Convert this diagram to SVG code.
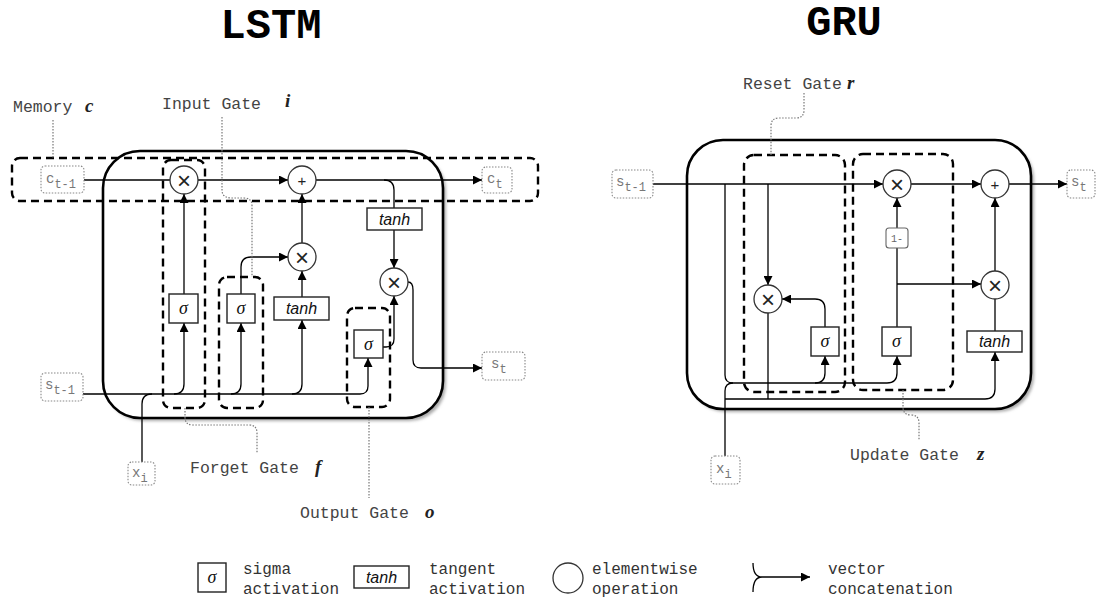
<svg xmlns="http://www.w3.org/2000/svg" width="1096" height="603" viewBox="0 0 1096 603">
<defs>
<marker id="arr" viewBox="0 0 10 10" refX="10" refY="5" markerWidth="10" markerHeight="9" markerUnits="userSpaceOnUse" orient="auto"><path d="M0,0 L10,5 L0,10 z" fill="#000"/></marker>
<filter id="blur" x="-10%" y="-10%" width="120%" height="120%"><feGaussianBlur stdDeviation="1.5"/></filter>
<style>
.title{font-family:"Liberation Mono",monospace;font-weight:bold;font-size:42px;fill:#000;text-anchor:middle}
.lbl{font-family:"Liberation Mono",monospace;font-size:16.5px;fill:#444}
.leg{font-family:"Liberation Mono",monospace;font-size:16px;fill:#333}
.var{font-family:"Liberation Serif",serif;font-style:italic;font-weight:bold;font-size:19px;fill:#222}
.main{fill:#fff;stroke:#000;stroke-width:2.6}
.shadow{fill:#aaa;filter:url(#blur)}
.dash{fill:none;stroke:#000;stroke-width:2.4;stroke-dasharray:8 5}
.lead{fill:none;stroke:#777;stroke-width:1.2;stroke-dasharray:1.5 1.5}
.con{fill:none;stroke:#000;stroke-width:1.3}
.ca{fill:none;stroke:#000;stroke-width:1.3;marker-end:url(#arr)}
.io{fill:#fff;stroke:#888;stroke-width:1.1;stroke-dasharray:1.5 1.5}
.iot{font-family:"Liberation Mono",monospace;font-size:14px;fill:#777}
.ios{font-family:"Liberation Mono",monospace;font-size:12px;fill:#777}
.op{fill:#fff;stroke:#333;stroke-width:1.3}
.opt{font-family:"Liberation Sans",sans-serif;fill:#222;text-anchor:middle;dominant-baseline:central}
.act{fill:#fff;stroke:#222;stroke-width:1.4}
.sig{font-family:"Liberation Serif",serif;font-style:italic;font-size:18px;fill:#111;text-anchor:middle}
.tanh{font-family:"Liberation Sans",sans-serif;font-style:italic;font-size:16px;fill:#111;text-anchor:middle}
</style>
</defs>
<rect width="1096" height="603" fill="#fff"/>

<text class="title" x="271" y="38">LSTM</text>
<text class="title" x="844" y="35">GRU</text>

<!-- LSTM frame -->
<g id="lstm-cell">
<rect class="shadow" x="106" y="154" width="340" height="267" rx="37"/>
<rect class="main" x="103" y="151" width="340" height="267" rx="37"/>
</g>
<g id="lstm-gates">
<rect class="dash" x="12" y="158" width="526" height="43" rx="8"/>
<rect class="dash" x="163" y="160" width="42" height="248" rx="8"/>
<rect class="dash" x="219" y="277" width="44" height="131" rx="8"/>
<rect class="dash" x="347" y="308" width="43" height="99" rx="8"/>
</g>

<!-- GRU frame -->
<g id="gru-cell">
<rect class="shadow" x="690" y="143" width="344" height="269" rx="36"/>
<rect class="main" x="687" y="140" width="344" height="269" rx="36"/>
</g>
<g id="gru-gates">
<rect class="dash" x="744" y="155" width="101" height="237" rx="10"/>
<rect class="dash" x="853" y="154" width="100" height="236" rx="10"/>
</g>

<!-- connectors -->
<g id="connectors">
<!-- LSTM -->
<path class="con" d="M84,180 H170"/>
<path class="ca" d="M198,180 H288"/>
<path class="ca" d="M316,180 H482"/>
<path class="con" d="M384,180 Q394,180 394,190 V208"/>
<path class="ca" d="M394,230 V268"/>
<path class="ca" d="M408,282 Q413,282 413,290 V360 Q413,368 421,368 H482"/>
<path class="ca" d="M383,347 H386 Q394,347 394,339 V296"/>
<path class="ca" d="M83,394 H360 Q368,394 368,386 V358"/>
<path class="ca" d="M174,394 Q184,394 184,384 V323"/>
<path class="ca" d="M184,294 V194"/>
<path class="ca" d="M231,394 Q241,394 241,384 V323"/>
<path class="ca" d="M241,294 V267 Q241,257 251,257 H288"/>
<path class="ca" d="M292,394 Q302,394 302,384 V320"/>
<path class="ca" d="M302,297 V271"/>
<path class="ca" d="M302,243 V194"/>
<path class="con" d="M142,462 V404 Q142,394 152,394"/>
<!-- GRU -->
<path class="ca" d="M653,184 H883"/>
<path class="ca" d="M911,184 H981"/>
<path class="ca" d="M1009,184 H1067"/>
<path class="con" d="M725,184 V375 Q725,383 733,383"/>
<path class="con" d="M725,456 V391 Q725,383 733,383"/>
<path class="ca" d="M733,383 H887 Q897,383 897,373 V356"/>
<path class="ca" d="M815,383 Q825,383 825,373 V356"/>
<path class="ca" d="M725,399 H985 Q995,399 995,389 V352"/>
<path class="ca" d="M768,184 V285"/>
<path class="con" d="M768,313 V399"/>
<path class="ca" d="M825,327 V309 Q825,299 815,299 H782"/>
<path class="con" d="M897,327 V248"/>
<path class="ca" d="M897,228 V198"/>
<path class="ca" d="M897,284 H981"/>
<path class="ca" d="M995,271 V198"/>
<path class="con" d="M995,331 V299"/>
</g>

<!-- LSTM nodes -->
<g id="lstm-ct1"><rect class="io" x="41" y="166" width="43" height="27" rx="4"/><text class="iot" x="46" y="183">c<tspan class="ios" dy="5">t-1</tspan></text></g>
<g id="lstm-ct"><rect class="io" x="482" y="167" width="30" height="26" rx="4"/><text class="iot" x="487" y="183">c<tspan class="ios" dy="5">t</tspan></text></g>
<g id="lstm-st1"><rect class="io" x="41" y="373" width="42" height="28" rx="4"/><text class="iot" x="45" y="389">s<tspan class="ios" dy="5">t-1</tspan></text></g>
<g id="lstm-st"><rect class="io" x="482" y="352" width="43" height="28" rx="4"/><text class="iot" x="491" y="368">s<tspan class="ios" dy="5">t</tspan></text></g>
<g id="lstm-xi"><rect class="io" x="128" y="462" width="27" height="23" rx="4"/><text class="iot" x="132" y="477">x<tspan class="ios" dy="5">i</tspan></text></g>

<g id="lstm-mul-f"><circle class="op" cx="184" cy="180" r="14"/><text class="opt" x="184" y="180" font-size="24">×</text></g>
<g id="lstm-add"><circle class="op" cx="302" cy="180" r="14"/><text class="opt" x="302" y="180" font-size="15">+</text></g>
<g id="lstm-mul-i"><circle class="op" cx="302" cy="257" r="14"/><text class="opt" x="302" y="257" font-size="24">×</text></g>
<g id="lstm-mul-o"><circle class="op" cx="394" cy="282" r="14"/><text class="opt" x="394" y="282" font-size="24">×</text></g>
<g id="lstm-tanh-c"><rect class="act" x="367" y="208" width="55" height="22"/><text class="tanh" x="394.5" y="225">tanh</text></g>
<g id="lstm-tanh-i"><rect class="act" x="274" y="297" width="55" height="23"/><text class="tanh" x="301.5" y="314">tanh</text></g>
<g id="lstm-sig-f"><rect class="act" x="169" y="294" width="29" height="29"/><text class="sig" x="183.5" y="314">σ</text></g>
<g id="lstm-sig-i"><rect class="act" x="227" y="294" width="28" height="29"/><text class="sig" x="241" y="314">σ</text></g>
<g id="lstm-sig-o"><rect class="act" x="354" y="330" width="29" height="28"/><text class="sig" x="368.5" y="350">σ</text></g>

<g id="lstm-labels">
<path class="lead" d="M53,120 V158"/>
<text class="lbl" x="13" y="112">Memory</text><text class="var" x="85" y="112">c</text>
<path class="lead" d="M222,117 V190 Q222,198 232,198 H244 Q252,198 252,206 V277"/>
<text class="lbl" x="162" y="109">Input Gate</text><text class="var" x="285" y="107">i</text>
<path class="lead" d="M185,408 V417 Q185,425 193,425 H249 Q257,425 257,433 V453"/>
<text class="lbl" x="190" y="473">Forget Gate</text><text class="var" x="315" y="473">f</text>
<path class="lead" d="M369,407 V498"/>
<text class="lbl" x="300" y="518">Output Gate</text><text class="var" x="425" y="518">o</text>
</g>

<!-- GRU nodes -->
<g id="gru-st1"><rect class="io" x="612" y="170" width="41" height="28" rx="4"/><text class="iot" x="616" y="186">s<tspan class="ios" dy="5">t-1</tspan></text></g>
<g id="gru-st"><rect class="io" x="1067" y="170" width="28" height="28" rx="4"/><text class="iot" x="1071" y="186">s<tspan class="ios" dy="5">t</tspan></text></g>
<g id="gru-xi"><rect class="io" x="711" y="456" width="29" height="28" rx="4"/><text class="iot" x="716" y="473">x<tspan class="ios" dy="5">i</tspan></text></g>
<g id="gru-mul-r"><circle class="op" cx="768" cy="299" r="14"/><text class="opt" x="768" y="299" font-size="24">×</text></g>
<g id="gru-mul-z1"><circle class="op" cx="897" cy="184" r="14"/><text class="opt" x="897" y="184" font-size="24">×</text></g>
<g id="gru-add"><circle class="op" cx="995" cy="184" r="14"/><text class="opt" x="995" y="184" font-size="15">+</text></g>
<g id="gru-mul-z2"><circle class="op" cx="995" cy="285" r="14"/><text class="opt" x="995" y="285" font-size="24">×</text></g>
<g id="gru-one-minus"><rect fill="#fff" stroke="#666" stroke-width="1.1" x="886" y="228" width="22" height="20" rx="3"/><text font-family="Liberation Mono, monospace" font-size="10" fill="#666" x="897" y="242" text-anchor="middle">1-</text></g>
<g id="gru-sig-r"><rect class="act" x="811" y="327" width="28" height="29"/><text class="sig" x="825" y="347">σ</text></g>
<g id="gru-sig-z"><rect class="act" x="882" y="327" width="29" height="29"/><text class="sig" x="896.5" y="347">σ</text></g>
<g id="gru-tanh"><rect class="act" x="967" y="331" width="55" height="21"/><text class="tanh" x="994.5" y="347">tanh</text></g>

<g id="gru-labels">
<path class="lead" d="M804,93 V110 Q804,118 796,118 H779 Q771,118 771,126 V155"/>
<text class="lbl" x="743" y="89">Reset Gate</text><text class="var" x="847" y="89">r</text>
<path class="lead" d="M903,390 V407 Q903,415 911,415 Q919,415 919,423 V440"/>
<text class="lbl" x="850" y="460">Update Gate</text><text class="var" x="977" y="460">z</text>
</g>

<!-- legend -->
<g id="legend-sigma"><rect class="act" x="198" y="563" width="28" height="29"/><text class="sig" x="212" y="583">σ</text>
<text class="leg" x="243" y="574">sigma</text><text class="leg" x="243" y="594">activation</text></g>
<g id="legend-tanh"><rect class="act" x="354" y="566" width="55" height="22"/><text class="tanh" x="381.5" y="583">tanh</text>
<text class="leg" x="429" y="574">tangent</text><text class="leg" x="429" y="594">activation</text></g>
<g id="legend-op"><circle class="op" cx="568" cy="578" r="15"/>
<text class="leg" x="592" y="574">elementwise</text><text class="leg" x="592" y="594">operation</text></g>
<g id="legend-concat"><path class="con" d="M753,563 Q753,577 762,577 M753,592 Q753,577 762,577"/><path class="ca" d="M762,577 H810"/>
<text class="leg" x="828" y="574">vector</text><text class="leg" x="828" y="594">concatenation</text></g>
</svg>
